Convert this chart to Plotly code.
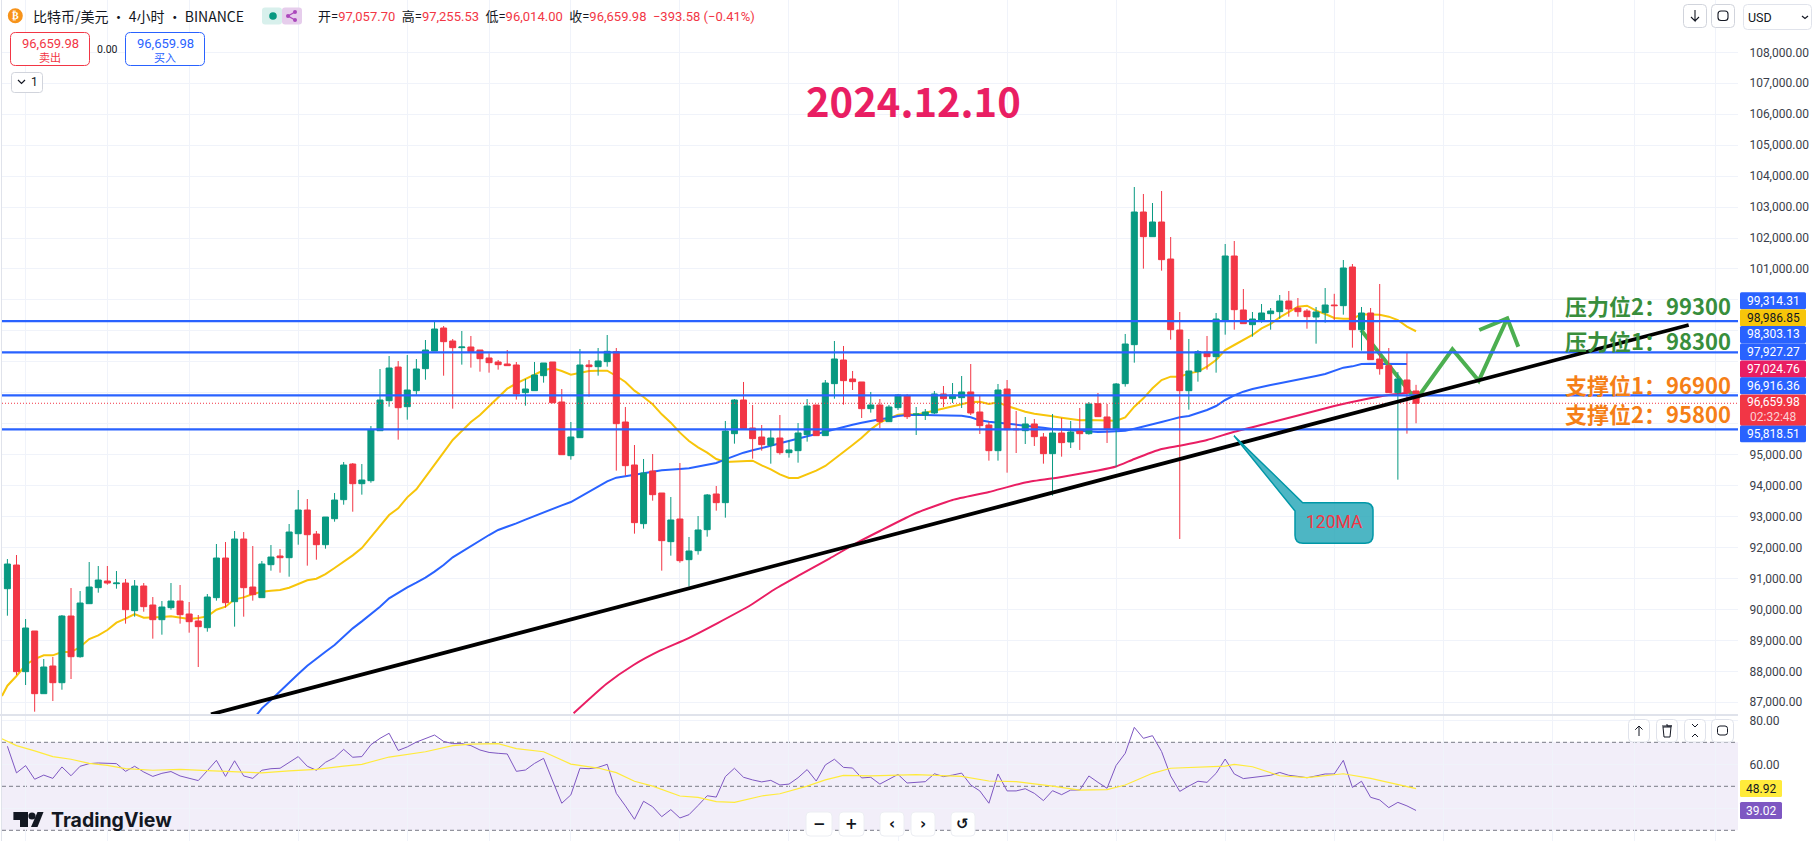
import plotly.graph_objects as go

W, H = 1813, 845

# ---------- DATA ----------
opens = [90669,91434,87988,89302,87277,88171,87632,89786,88472,90185,90702,90917,90831,90852,89959,90756,90142,89668,90056,90271,89851,89625,89409,90379,91660,90249,92274,90723,90379,91445,91725,91671,92446,93211,92436,92091,92931,93545,94697,94062,94159,95774,96744,97831,96550,97067,97778,98348,
99092,98672,98457,98478,98381,98123,97994,97929,97897,97003,97068,97552,97994,96701,94967,95549,97897,97843,98005,98328,96055,94666,92770,94472,93761,92189,92921,91607,91898,92576,93729,93449,95678,96766,95861,95570,95301,95538,95064,95129,95646,96605,95614,97294,98058,97445,97348,96486,96605,96066,96518,96895,96292,96281,96346,96960,96809,96841,97025,96378,95958,95129,97121,95829,95775,95991,95570,95032,95700,95409,95764,95678,96648,96217,95829,97294,98554,102840,102043,102517,101321,99027,97067,97681,98317,98166,99350,101418,99674,99200,99329,99555,99620,99964,99738,99641,99447,99587,99835,99814,101063,99038,99577,98090,97875,97003,97412,97057.70]
highs = [91628,91757,89689,89302,88397,88462,89819,90691,90594,91531,91402,91402,91240,90982,90949,90852,90400,90271,90852,90788,90239,89819,90497,92113,92177,92533,92500,92048,91563,92080,91951,92759,93857,93567,92533,92985,93760,94762,94730,94697,95925,97767,98187,98025,98219,98090,98704,99296,
99156,98737,98995,98834,98381,98274,98058,98381,97994,97445,97994,97961,97994,97121,96055,98414,98058,98446,98866,98446,96540,95312,94860,95021,93761,93632,94730,92340,93018,93729,93987,96088,96798,97348,96605,95958,95829,96281,95474,96023,96798,96605,97412,98672,98511,97703,97348,97025,96798,96605,96960,96960,96540,96475,97057,97218,97315,97541,97929,96895,96055,97283,97412,96411,96217,96152,95700,96314,96184,96088,96508,96701,96992,96637,97315,98899,103648,103422,103131,103518,102032,99609,98737,98381,98834,99577,101806,101903,100352,99609,99867,99738,100158,100288,100061,99706,99771,100384,100197,101289,101160,99771,99738,100514,98446,97670,98284,97255.53]
lows = [89797,87880,87557,86695,87277,87040,87406,87751,88440,90185,90540,90799,90669,89539,89765,89926,89054,89183,89991,89539,89248,88139,89280,90282,90056,89442,89765,90282,90379,91251,91186,91057,92091,91413,91606,91962,92834,93383,93157,93707,94094,95774,96550,95484,96130,96937,97422,98348,
97551,96486,97908,97811,97681,97649,97746,97875,96777,96583,97068,97326,96658,94999,94838,95549,96874,97552,97843,94483,94321,92447,92609,93513,91252,91736,91510,90735,91769,92350,93190,92964,95355,95807,94870,95129,94709,95000,94903,94741,95420,95614,95614,96809,96615,97089,96184,96357,95861,96066,96443,96152,95635,96120,96314,96540,96669,96508,96281,95667,94806,94806,94418,95053,95344,95280,94709,93675,94935,95215,95151,95646,96217,95377,94601,97197,97972,101009,102043,100944,98715,92275,96453,97358,97746,97649,98877,99038,99232,98812,99264,99038,99394,99458,99458,99070,98586,99264,99297,99523,98457,98360,98069,97584,97003,94192,95678,96014.00]
closes = [91466,87988,89399,87277,88139,87632,89786,88472,90206,90723,90949,90852,90852,89991,90756,90088,89668,90077,90271,89829,89603,89442,90400,91660,90217,92274,90702,90476,91466,91692,91671,92500,93211,92414,92091,92985,93534,94665,94062,94180,95796,96765,97799,96517,97088,97767,98381,99059,
98650,98457,98478,98328,98101,97972,97908,97875,96960,97121,97574,97961,96680,94999,95570,97897,97843,98026,98338,96001,94644,92803,94407,93707,92221,92889,91575,91887,92566,93697,93449,95764,96766,95840,95517,95323,95538,95064,95151,95700,96572,95614,97315,98091,97391,97358,96486,96605,96066,96540,96928,96228,96314,96378,96960,96809,96928,97025,96346,95937,95129,97089,95807,95807,95991,95581,95032,95700,95388,95732,95678,96637,96228,95829,97283,98575,102840,102043,102517,101300,99038,97067,97703,98327,98166,99383,101418,99684,99232,99383,99577,99641,99964,99706,99620,99458,99609,99835,99814,101031,99038,99577,98069,97778,97003,97444,97003,96659.98]

ma_fast = [87535,87848,88203,88397,88516,88516,88623,88623,88785,89043,89162,89334,89571,89700,89851,89732,89732,89754,89775,89743,89689,89722,89775,89991,90088,90325,90389,90497,90572,90605,90626,90702,90809,90939,90992,91143,91337,91542,91746,91983,92328,92673,93049,93265,93620,93879,94267,94687,95075,
95474,95775,96055,96281,96572,96874,97132,97305,97445,97585,97725,97789,97703,97585,97649,97703,97714,97714,97541,97348,97068,96863,96626,96303,96034,95711,95441,95237,95064,94860,94763,94784,94806,94806,94655,94526,94364,94246,94246,94353,94483,94633,94849,95086,
95312,95549,95818,96034,96174,96292,96314,96292,96357,96421,96475,96540,96626,96701,96712,96637,96691,96572,96475,96389,96324,96271,96238,96195,96163,96109,96120,96120,96109,96098,96206,
96550,96819,97143,97412,97520,97520,97627,97681,97843,98058,98381,98543,98704,98866,99081,99221,99437,99620,99781,99814,99652,99544,99415,99394,99394,99534,99534,99523,99458,99350,99135,98986.85]
ma_fast_lead_bar, ma_fast_lead_val = -0.6, 87201

ma_mid_start = 27
ma_mid = [86426,86803,87072,87363,87632,87912,88181,88418,88634,88849,89119,89388,89614,89840,90088,90357,90540,90712,90863,91025,91219,91434,
91683,91866,92049,92221,92404,92566,92663,92781,92900,93018,93147,93244,93363,93470,93643,93815,93987,94138,94257,94310,94364,94407,94450,94494,94526,94537,94558,94623,94677,94730,94849,94957,95064,95140,95204,95290,95366,95441,95527,95603,95667,95764,95840,95904,
95969,96034,96098,96141,96184,96249,96281,96292,96281,96271,96271,96271,96260,96206,96109,96066,96034,96023,95991,95958,95926,95872,95829,95808,95786,95754,95732,95732,95743,95754,95775,95840,95904,95980,96055,96131,96206,96249,96346,
96443,96572,96766,96916,97035,97121,97196,97250,97304,97358,97412,97466,97541,97606,97703,97810,97853,97929,97940,97940,97935,97930,97927.27]

ma120_bar = [62.3,65.9,68.9,71.8,74.9,78.1,81.8,84.3,87.2,90.5,93.5,96,100,104,108,112,116,120,122,124,127,129,132,135,139,142,146,149,152,155]
ma120_val = [86644,87590,88204,88666,89066,89551,90142,90627,91112,91651,92155,92533,93115,93535,93793,94100,94278,94488,94617,94860,95183,95289,95473,95742,96039,96265,96572,96766,96927,97024.76]

levels = [99314.31, 98303.13, 96916.36, 95818.51]
last_price = 96659.98

trend_bar = [22.4, 185.0]
trend_val = [86610, 99189]
path_bar = [148.95,155.0,159.0,161.9,165.04,161.96,165.04,166.25]
path_val = [99027,96766,98404,97389,99405,99027,99405,98488]

rsi = [68.2,56.1,59.4,53.2,55.1,53.6,58.8,54.8,59.1,60.3,60.6,60.4,60.3,56.8,59.1,56.5,54.5,55.9,56.7,54.7,53.5,52.6,57.1,61.8,54.5,61.6,54.7,53.6,57.3,58.0,58.2,60.9,63.5,59.1,57.3,60.9,63.0,66.8,63.2,63.5,68.9,71.8,74.1,66.3,67.9,70.1,71.8,73.3,70.4,69.4,69.4,68.5,66.5,65.4,65.0,64.7,56.8,57.4,60.4,62.7,52.4,42.3,46.1,58.2,58.0,58.6,60.0,46.8,41.1,35.0,43.2,40.7,36.2,39.4,35.6,37.1,41.3,
45.7,45.1,54.4,58.2,54.1,52.9,52.0,52.7,50.6,51.0,53.9,57.6,52.4,59.7,62.3,58.6,58.3,53.8,54.1,51.0,53.3,55.4,51.5,51.7,52.1,55.7,54.4,55.1,56.0,50.6,47.9,42.3,55.6,47.9,47.9,48.9,46.8,43.5,48.0,46.2,48.3,48.3,54.7,51.8,49.1,59.5,65.0,76.8,71.8,73.0,65.8,54.7,47.7,50.1,52.3,51.8,55.9,62.4,55.6,53.5,53.9,54.5,55.0,56.3,55.0,54.5,53.9,54.7,55.6,55.6,61.8,49.5,52.3,45.0,43.8,40.3,42.7,41.1,39.02]
rsi_ma_bar = [-0.6,1,3,5,7,9,11,13,16,19,22,25,28,31,34,37,39,42,46,49,51,54,56,59,62,65,67,69,71,74,76,78,80,83,85,88,90,92,95,100,105,108,111,115,118,121,123,126,128,134,135,137,140,143,147,150,153,155]
rsi_ma_val = [71.6,68.5,66.1,63.5,62.3,60.4,59.5,58.0,57.3,57.7,57.1,56.7,56.1,57.0,57.7,59.2,60.0,63.3,65.7,68.5,69.2,69.4,67.1,65.7,60.1,58.3,56.2,52.3,50.1,45.6,45.0,43.0,42.7,45.6,46.6,50.1,52.9,55.0,54.7,55.3,54.5,52.4,52.1,50.1,48.3,48.5,50.6,55.9,58.2,59.2,60.0,58.9,54.8,53.9,55.7,53.6,51.0,48.92]
rsi_bands = [70, 50, 30]

price_ticks = list(range(87000, 109000, 1000))
hidden_ticks = {96000, 97000, 98000, 99000, 100000}
rsi_ticks = [40, 60, 80]
rsi_tick_text = ["", "60.00", "80.00"]
grid_bars = [2,11,20,32,44,53,62,74,86,98,110,122,134,146,158,170,179,188]

tags = [("99,314.31", 300.7, "#2962ff", "#ffffff"), ("98,986.85", 317.7, "#f7c50a", "#131722"),
        ("98,303.13", 334.4, "#2962ff", "#ffffff"), ("97,927.27", 351.7, "#2962ff", "#ffffff"),
        ("97,024.76", 369.0, "#e91e63", "#ffffff"), ("96,916.36", 385.7, "#2962ff", "#ffffff"),
        ("95,818.51", 433.7, "#2962ff", "#ffffff")]
level_labels = [("压力位2：99300", 305, "#388e3c"), ("压力位1：98300", 340, "#388e3c"),
                ("支撑位1：96900", 384, "#f57f17"), ("支撑位2：95800", 413, "#f57f17")]

UP, DOWN = "#089981", "#f23645"
CJK = "Noto Sans CJK SC"
NUM = "Roboto, Noto Sans CJK SC"
INK = "#131722"

# ---------- axes geometry ----------
L, R = 2, 1738
PANE1_B, PANE2_T, PANE2_B = 714, 716, 841
PX = 32.31
x_range = [(L - 7.4) / 9.088, (R - 7.4) / 9.088]
y_range = [108000 - (PANE1_B - 52.3) * PX, 108000 + 52.3 * PX]
rsi_range = [80 - (PANE2_B - 720.3) / 2.2, 80 + (720.3 - PANE2_T) / 2.2]
bars = list(range(len(closes)))

fig = go.Figure()

def line(x, y, color, width, ls=None, **kw):
    fig.add_trace(go.Scatter(x=x, y=y, mode="lines", line=dict(color=color, width=width, **(ls or {})),
                             hoverinfo="skip", showlegend=False, **kw))

# below the candles
line([ma_fast_lead_bar] + bars, [ma_fast_lead_val] + ma_fast, "#f7c50a", 2)
line([b + ma_mid_start for b in range(len(ma_mid))], ma_mid, "#2962ff", 2)
line(ma120_bar, ma120_val, "#e91e63", 2, ls=dict(shape="spline", smoothing=0.5))
line(path_bar, path_val, "#4caf50", 4)

# candles and drawings above them
fig.add_trace(go.Candlestick(x=bars, open=opens, high=highs, low=lows, close=closes,
                             xaxis="x3", yaxis="y3", whiskerwidth=0, hoverinfo="skip", showlegend=False,
                             increasing=dict(line=dict(color=UP, width=1), fillcolor=UP),
                             decreasing=dict(line=dict(color=DOWN, width=1), fillcolor=DOWN)))
line(list(x_range), [last_price, last_price], DOWN, 1, ls=dict(dash="1px,2px"), xaxis="x3", yaxis="y3")
for lv in levels:
    line(list(x_range), [lv, lv], "#2962ff", 2.2, xaxis="x3", yaxis="y3")
line(trend_bar, trend_val, "#000000", 3.8, xaxis="x3", yaxis="y3")

# RSI
line(bars, rsi, "#7e57c2", 1, xaxis="x2", yaxis="y2")
line(rsi_ma_bar, rsi_ma_val, "#ffeb3b", 1.2, xaxis="x2", yaxis="y2")

shapes, anns = [], []
px = lambda x: x / W
py = lambda y: 1 - y / H

def rrect(x0, y0, x1, y1, r=4, fill="#ffffff", stroke="#e0e3eb", sw=1, layer="above"):
    X0, X1, Y0, Y1 = px(x0), px(x1), py(y0), py(y1)
    rx, ry = r / W, r / H
    p = (f"M{X0+rx},{Y0} L{X1-rx},{Y0} Q{X1},{Y0} {X1},{Y0-ry} L{X1},{Y1+ry} Q{X1},{Y1} {X1-rx},{Y1} "
         f"L{X0+rx},{Y1} Q{X0},{Y1} {X0},{Y1+ry} L{X0},{Y0-ry} Q{X0},{Y0} {X0+rx},{Y0} Z")
    shapes.append(dict(type="path", path=p, xref="paper", yref="paper", fillcolor=fill,
                       line=dict(color=stroke, width=sw), layer=layer))

def poly(pts, fill="rgba(0,0,0,0)", stroke="rgba(0,0,0,0)", sw=1, close=True):
    p = "M" + " L".join(f"{px(a)},{py(b)}" for a, b in pts) + (" Z" if close else "")
    shapes.append(dict(type="path", path=p, xref="paper", yref="paper", fillcolor=fill,
                       line=dict(color=stroke, width=sw), layer="above"))

def circle(cx, cy, r, fill):
    shapes.append(dict(type="circle", xref="paper", yref="paper", x0=px(cx - r), x1=px(cx + r),
                       y0=py(cy + r), y1=py(cy - r), fillcolor=fill, line=dict(width=0), layer="above"))

def text(x, y, s, size=12, color=INK, anchor="left", font=NUM):
    anns.append(dict(x=px(x), y=py(y), xref="paper", yref="paper", text=s, showarrow=False, xanchor=anchor,
                     yanchor="middle", font=dict(size=size, color=color, family=font), borderpad=0, borderwidth=0))

# pane separator, left edge, RSI bands
shapes.append(dict(type="rect", xref="paper", yref="paper", x0=px(0), x1=px(R), y0=py(PANE2_T), y1=py(PANE1_B),
                   fillcolor="#e0e3eb", line=dict(width=0), layer="below"))
shapes.append(dict(type="rect", xref="paper", yref="paper", x0=px(1), x1=px(2), y0=py(PANE2_B), y1=1,
                   fillcolor="#e0e3eb", line=dict(width=0), layer="below"))
shapes.append(dict(type="rect", xref="paper", yref="y2", x0=px(L), x1=px(R), y0=rsi_bands[2], y1=rsi_bands[0],
                   fillcolor="rgba(126,87,194,0.1)", line=dict(width=0), layer="below"))
for b in rsi_bands:
    shapes.append(dict(type="line", xref="paper", yref="y2", x0=px(L), x1=px(R), y0=b, y1=b,
                       line=dict(color="#787b86", width=1, dash="4px,3px"), layer="below"))

# title and level labels
text(913, 100, "<b>2024.12.10</b>", 40, "#e91e63", "center", CJK)
for s, y, c in level_labels:
    text(1565, y, f"<b>{s}</b>", 22, c, "left", CJK)

# callout
_r = 8
def _corner(x, y):
    return f"{px(x)},{py(y)}"
callout = ("M" + _corner(1234, 435.7) + " L" + _corner(1302.7, 502.7) + " L" + _corner(1373 - _r, 502.7)
           + " Q" + _corner(1373, 502.7) + " " + _corner(1373, 502.7 + _r) + " L" + _corner(1373, 543.3 - _r)
           + " Q" + _corner(1373, 543.3) + " " + _corner(1373 - _r, 543.3) + " L" + _corner(1295 + _r, 543.3)
           + " Q" + _corner(1295, 543.3) + " " + _corner(1295, 543.3 - _r) + " L" + _corner(1295, 511) + " Z")
shapes.append(dict(type="path", path=callout, xref="paper", yref="paper", fillcolor="rgba(38,166,183,0.82)",
                   line=dict(color="#0097a7", width=1.5), layer="above"))
text(1334, 522, "120MA", 17.5, DOWN, "center", NUM)

# header
circle(15.3, 15.7, 7.5, "#f7931a")
text(15.3, 15.7, "<b>₿</b>", 10, "#ffffff", "center", "DejaVu Sans")
text(33, 16, "比特币/美元 · 4小时 · BINANCE", 14, INK, "left", CJK)
rrect(262, 7.5, 282, 24.5, 3, "#d8f0ec", "#d8f0ec", 0)
rrect(282, 7.5, 302, 24.5, 3, "#e6cdec", "#e6cdec", 0)
circle(273, 16, 3.8, UP)
poly([(295, 12), (288, 16), (295, 20)], stroke="#ab47bc", sw=1.3, close=False)
circle(295, 12, 2, "#ab47bc"); circle(288, 16, 2, "#ab47bc"); circle(295, 20, 2, "#ab47bc")
lbl = lambda a: f"<span style='color:{INK}'>{a}</span>"
text(318, 16, lbl("开=") + "97,057.70 " + lbl(" 高=") + "97,255.53 " + lbl(" 低=") + "96,014.00 " + lbl(" 收=")
     + "96,659.98  −393.58 (−0.41%)", 13, DOWN, "left", NUM)

rrect(10.5, 32.5, 89.5, 65.5, 5, "#ffffff", DOWN)
text(50, 43, "96,659.98", 13, DOWN, "center")
text(50, 57, "卖出", 11, DOWN, "center", CJK)
text(107.5, 49.5, "0.00", 10.5, INK, "center")
rrect(125.5, 32.5, 204.5, 65.5, 5, "#ffffff", "#2962ff")
text(165, 43, "96,659.98", 13, "#2962ff", "center")
text(165, 57, "买入", 11, "#2962ff", "center", CJK)
rrect(11.5, 72.5, 42.5, 92.5, 3, "#ffffff", "#d1d4dc")
poly([(18, 80), (21.5, 83.5), (25, 80)], stroke=INK, sw=1.2, close=False)
text(34, 82.5, "1", 12, INK, "center")

# top-right buttons
rrect(1683.5, 4.5, 1706.5, 27.5, 4, "#ffffff", "#d1d4dc")
poly([(1695, 10), (1695, 21), (1691, 17), (1695, 21), (1699, 17)], stroke=INK, sw=1.1, close=False)
rrect(1711.5, 4.5, 1734.5, 27.5, 4, "#ffffff", "#d1d4dc")
rrect(1718, 11, 1728, 20.5, 3, "rgba(0,0,0,0)", INK, 1.1)
rrect(1743.5, 4.5, 1811.5, 29.5, 4, "#ffffff", "#e0e3eb")
text(1748, 17, "USD", 12.5, INK, "left")
poly([(1802, 16), (1805, 18.5), (1808, 16)], stroke=INK, sw=1.2, close=False)

# price tags
for s, y, bg, fg in tags:
    rrect(1740, y - 8.5, 1806, y + 8.5, 1.5, bg, bg, 0)
    text(1773, y, s, 12, fg, "center")
rrect(1740, 394.5, 1806, 425.5, 1.5, DOWN, DOWN, 0)
text(1773, 402.3, "96,659.98", 12, "#ffffff", "center")
text(1773, 416.7, "02:32:48", 12, "#fbd0d4", "center")

# RSI tags
rrect(1740, 780, 1782, 797, 1.5, "#ffeb3b", "#ffeb3b", 0)
text(1761, 788.5, "48.92", 12, INK, "center")
rrect(1740, 802, 1782, 819, 1.5, "#7e57c2", "#7e57c2", 0)
text(1761, 810.5, "39.02", 12, "#ffffff", "center")

# RSI pane buttons
for x0, x1 in [(1628, 1650), (1656, 1678), (1684, 1706), (1711, 1734)]:
    rrect(x0 + .5, 719.5, x1 - .5, 742, 4, "#ffffff", "#e0e3eb")
poly([(1639, 736), (1639, 726), (1635.5, 729.5), (1639, 726), (1642.5, 729.5)], stroke=INK, sw=1, close=False)
poly([(1663, 727), (1671, 727), (1670, 737), (1664, 737)], stroke=INK, sw=1)
poly([(1662, 726), (1672, 726), (1667, 726), (1667, 724)], stroke=INK, sw=1, close=False)
poly([(1692, 724), (1695, 727), (1698, 724)], stroke=INK, sw=1, close=False)
poly([(1692, 737), (1695, 734), (1698, 737)], stroke=INK, sw=1, close=False)
rrect(1717.5, 726, 1727.5, 735, 2.5, "rgba(0,0,0,0)", INK, 1)

# zoom controls
for (x0, x1), s in zip([(806, 832), (839, 864), (880, 904), (911, 935), (951, 975)], ["−", "+", "‹", "›", "↺"]):
    rrect(x0, 812, x1, 836, 4, "#ffffff", "#eceef3")
    text((x0 + x1) / 2, 824, f"<b>{s}</b>", 15, INK, "center", "DejaVu Sans")

# TradingView mark
poly([(13.4, 812), (28, 812), (28, 827), (20, 827), (20, 820), (13.4, 820)], fill="#131722")
circle(32, 816, 3.6, "#131722")
poly([(31, 827), (37.5, 812), (43.5, 812), (37.5, 827)], fill="#131722")
text(51, 820, "<b>TradingView</b>", 19.5, "#131722", "left", "Inter")

grid = "#f0f3fa"
no = dict(showticklabels=False, zeroline=False, showline=False, ticks="", automargin=False)
xdom = [px(L), px(R)]
tick_kw = dict(showgrid=True, gridcolor=grid, zeroline=False, showline=False, ticks="outside", ticklen=8,
               tickcolor="rgba(0,0,0,0)", automargin=False, side="right",
               tickfont=dict(size=12, color="#3a3e4a", family=NUM))
fig.update_layout(
    width=W, height=H, margin=dict(l=0, r=0, t=0, b=0, pad=0, autoexpand=False), autosize=False,
    paper_bgcolor="#ffffff", plot_bgcolor="#ffffff", showlegend=False, hovermode=False,
    boxgap=0.34, boxgroupgap=0,
    font=dict(family=NUM, size=12, color="#3a3e4a"),
    xaxis=dict(domain=xdom, range=x_range, anchor="y", tickvals=grid_bars, showgrid=True, gridcolor=grid, rangeslider=dict(visible=False), **no),
    yaxis=dict(domain=[py(PANE1_B), 1], range=y_range, anchor="x", tickvals=price_ticks,
               ticktext=["" if t in hidden_ticks else f"{t:,.2f}" for t in price_ticks], **tick_kw),
    xaxis2=dict(domain=xdom, range=x_range, anchor="y2", tickvals=grid_bars, showgrid=True, gridcolor=grid, **no),
    yaxis2=dict(domain=[py(PANE2_B), py(PANE2_T)], range=rsi_range, anchor="x2", tickvals=rsi_ticks, ticktext=rsi_tick_text, **tick_kw),
    xaxis3=dict(domain=xdom, range=x_range, overlaying="x", anchor="y3", showgrid=False, rangeslider=dict(visible=False), **no),
    yaxis3=dict(domain=[py(PANE1_B), 1], range=y_range, overlaying="y", anchor="x3", showgrid=False, **no),
    shapes=shapes, annotations=anns,
)

fig.write_html("out.html", config=dict(displayModeBar=False, responsive=False),
               post_script="document.body.style.margin='0';document.body.style.overflow='hidden';")
